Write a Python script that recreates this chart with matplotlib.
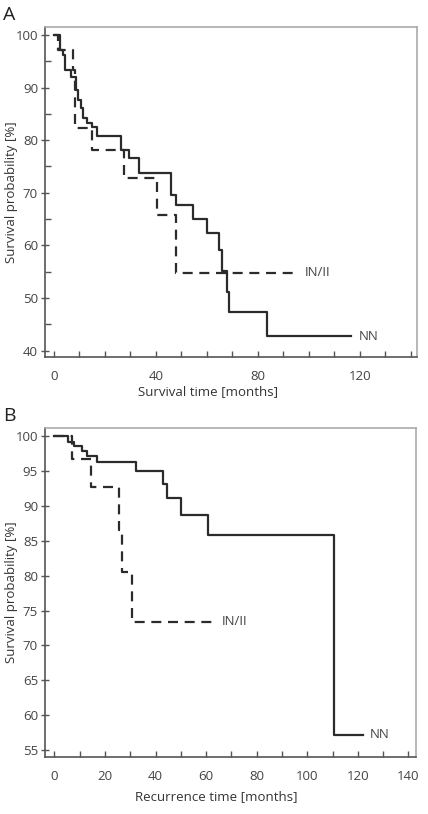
import numpy as np
import matplotlib
matplotlib.use('Agg')
from matplotlib import pyplot as plt
from matplotlib.ticker import MultipleLocator

plt.rcParams['font.family'] = ['Open Sans', 'DejaVu Sans']

# panel A - overall survival
a_nn_t = [0, 2.3, 3.6, 4.3, 6.7, 8.6, 9.5, 10.5, 11.5, 12.8, 14.8, 16.7, 26.5, 29.4, 33.5, 46.0, 48.0, 54.4, 59.9, 64.7, 66.1, 67.7, 68.8, 83.6, 116.7]
a_nn_s = [100, 97.1, 96.1, 93.4, 92.0, 89.6, 87.6, 86.1, 84.2, 83.2, 82.5, 80.8, 78.1, 76.7, 73.8, 69.6, 67.7, 65.0, 62.4, 59.1, 55.2, 51.2, 47.4, 42.7, 42.7]
a_in_t = [0, 1.7, 7.6, 8.3, 14.8, 27.5, 40.3, 47.8, 94.5]
a_in_s = [100, 97.2, 93.3, 82.4, 78.1, 72.9, 65.7, 54.8, 54.8]

# panel B - recurrence free
b_nn_t = [0, 5.3, 7.8, 10.8, 13.0, 17.0, 32.2, 43.1, 44.7, 50.1, 60.9, 110.7, 121.9]
b_nn_s = [100, 99.2, 98.6, 97.9, 97.2, 96.3, 95.0, 93.2, 91.2, 88.7, 85.9, 57.2, 57.2]
b_in_t = [0, 7.0, 14.4, 25.6, 26.6, 30.6, 62.2]
b_in_s = [100, 96.8, 92.7, 86.6, 80.6, 73.4, 73.4]

panels = [
    dict(letter='A', nn=(a_nn_t, a_nn_s), inn=(a_in_t, a_in_s), xlim=(-3.5, 142.4), ylim=(38.8, 101.5),
         xmaj=40, ymaj=10, ymin=5, xlab='Survival time [months]', xlab_c=208, xlab_y=28),
    dict(letter='B', nn=(b_nn_t, b_nn_s), inn=(b_in_t, b_in_s), xlim=(-3.7, 143), ylim=(54.0, 101.2),
         xmaj=20, ymaj=5, ymin=5, xlab='Recurrence time [months]', xlab_c=216, xlab_y=33),
]

fig = plt.figure(figsize=(4.28, 8.14), dpi=100)
W, H = 428, 814
boxes = [(45, 27, 417, 357), (45, 428, 416, 757)]
dark = '#333333'

for p, (l, t, r, b) in zip(panels, boxes):
    ax = fig.add_axes([l / W, 1 - b / H, (r - l) / W, (b - t) / H])
    tn, sn = p['nn']
    ti, si = p['inn']
    ax.step(tn, sn, where='post', color='#2b2b2b', lw=1.6)
    ax.step(ti, si, where='post', color='#2b2b2b', lw=1.6, ls=(0, (4.5, 3)))
    ax.text(ti[-1] + 4, si[-1], 'IN/II', va='center', ha='left', fontsize=9.5, color='#444444')
    ax.text(tn[-1] + 3, sn[-1], 'NN', va='center', ha='left', fontsize=9.5, color='#444444')
    ax.set_xlim(*p['xlim'])
    ax.set_ylim(*p['ylim'])
    ax.xaxis.set_major_locator(MultipleLocator(p['xmaj']))
    ax.xaxis.set_minor_locator(MultipleLocator(10))
    ax.yaxis.set_major_locator(MultipleLocator(p['ymaj']))
    ax.yaxis.set_minor_locator(MultipleLocator(p['ymin']))
    ax.tick_params(axis='x', which='both', direction='in', length=4, width=1, color='#555555',
                   labelsize=9.5, labelcolor='#444444', pad=9)
    ax.tick_params(axis='y', which='major', direction='inout', length=6, width=1, color='#555555',
                   labelsize=9.5, labelcolor='#444444', pad=2)
    ax.tick_params(axis='y', which='minor', direction='in', length=4, width=1, color='#555555')
    for s in ['left', 'bottom']:
        ax.spines[s].set_color('#555555')
        ax.spines[s].set_linewidth(1.2)
    for s in ['top', 'right']:
        ax.spines[s].set_color('#aaaaaa')
        ax.spines[s].set_linewidth(1.2)
    ax.set_xlabel(p['xlab'], fontsize=9.5, color=dark)
    ax.xaxis.set_label_coords((p['xlab_c'] - l) / (r - l), -p['xlab_y'] / (b - t))
    ax.set_ylabel('Survival probability [%]', fontsize=9.5, color=dark)
    ax.yaxis.set_label_coords(-(l - 18) / (r - l), 0.5)
    fig.text(3 / W, 1 - (t - 12) / H, p['letter'], fontsize=14, color='#222222', va='center', ha='left')

fig.savefig('out.png', dpi=100)
